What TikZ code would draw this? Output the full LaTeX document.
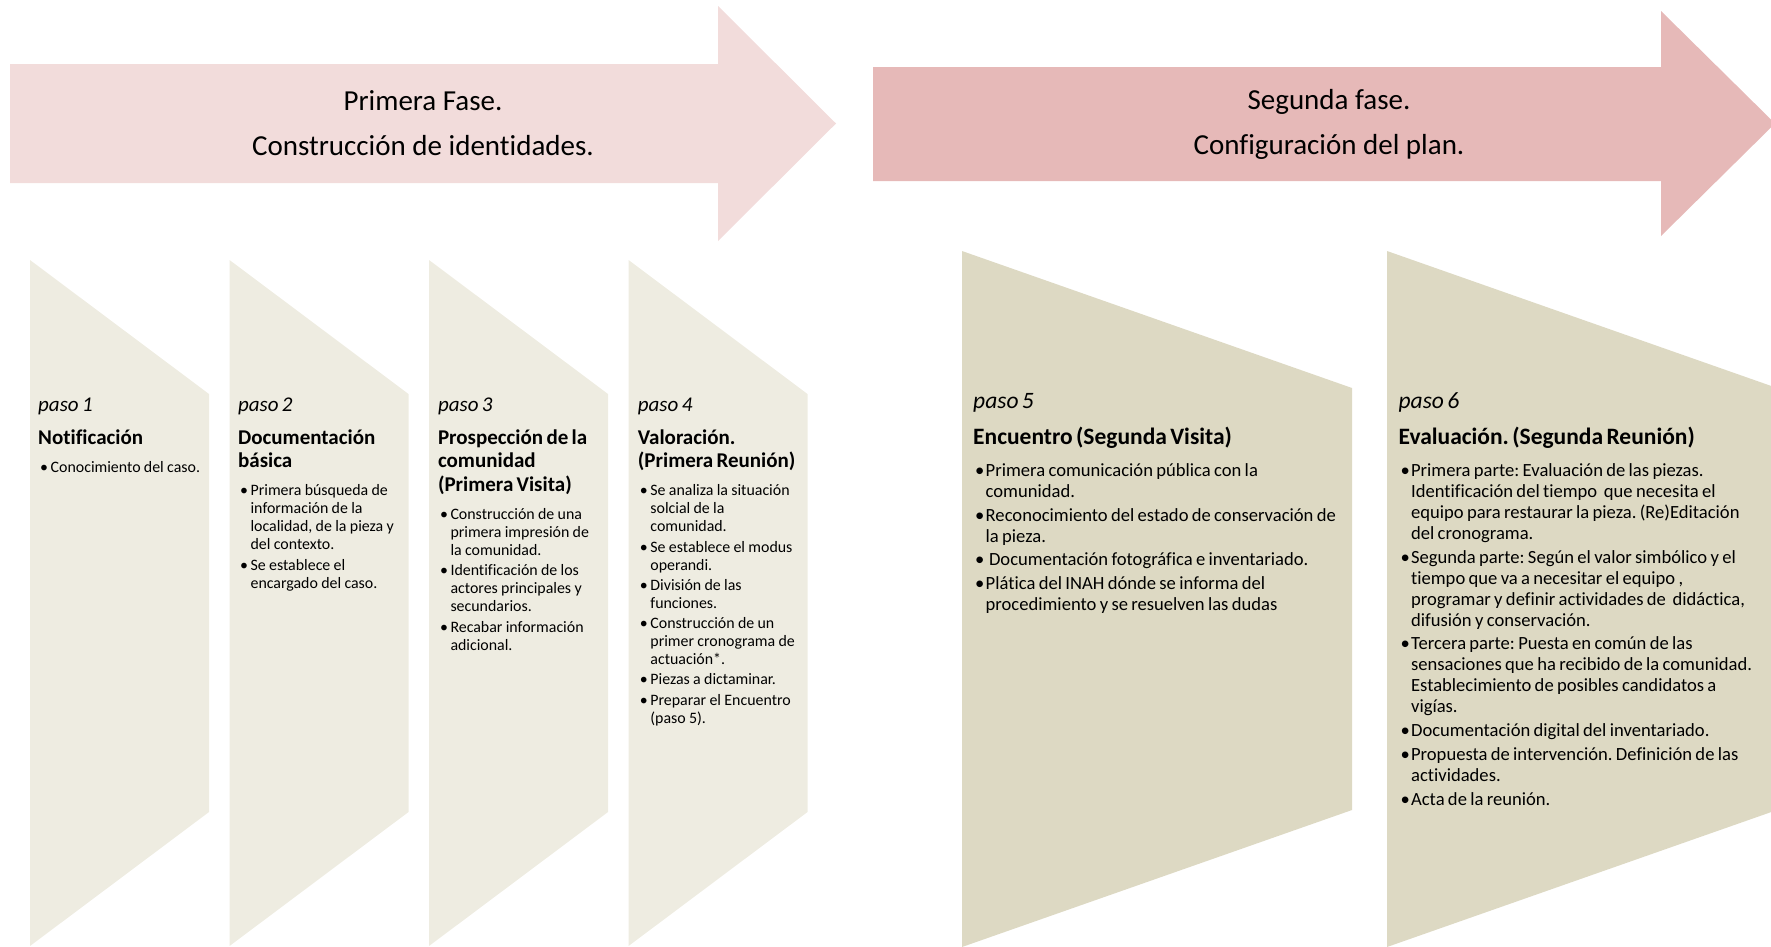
\documentclass[tikz,border=0pt]{standalone}
\usepackage{fontspec}
\setmainfont{Carlito}[Ligatures=NoCommon]
\usepackage{tikz}
\usetikzlibrary{positioning}
\frenchspacing

\definecolor{faseuno}{HTML}{F2DCDB}
\definecolor{fasedos}{HTML}{E6B9B8}
\definecolor{pasoclaro}{HTML}{EEECE1}
\definecolor{pasooscuro}{HTML}{DDD9C3}

\newlength{\headgap}
\newlength{\listgap}
\newlength{\itemgap}
\newlength{\bulletind}
\newcommand{\headfont}{}
\newcommand{\itemfont}{}
\newcommand{\smallset}{%
  \renewcommand{\headfont}{\fontsize{21}{23.7}\selectfont}%
  \renewcommand{\itemfont}{\fontsize{15.9}{18}\selectfont}%
  \setlength{\parindent}{0pt}\setlength{\parskip}{0pt}%
  \setlength{\headgap}{9.3pt}\setlength{\listgap}{10pt}%
  \setlength{\itemgap}{2.3pt}\setlength{\bulletind}{12.5pt}}
\newcommand{\bigset}{%
  \renewcommand{\headfont}{\fontsize{23.5}{26.5}\selectfont}%
  \renewcommand{\itemfont}{\fontsize{18.6}{21}\selectfont}%
  \setlength{\parindent}{0pt}\setlength{\parskip}{0pt}%
  \setlength{\headgap}{9.5pt}\setlength{\listgap}{11.5pt}%
  \setlength{\itemgap}{2.7pt}\setlength{\bulletind}{12.5pt}}
\newcommand{\pasohead}[2]{{\headfont\itshape paso #1\par}\vspace{\headgap}{\headfont\bfseries #2\par}\vspace{\listgap}}
\newcommand{\pasoitem}[1]{{\itemfont\hangindent=\bulletind\hangafter=1\noindent\makebox[\bulletind][l]{\hspace{2pt}\textbullet}#1\par}\vspace{\itemgap}}

\begin{document}
\begin{tikzpicture}[x=1pt,y=-1pt,
  fase/.style={align=center,inner sep=0pt,font=\fontsize{29}{45}\selectfont},
  small step/.style={text width=195pt,inner sep=0pt,align=left,font=\smallset},
  big step/.style={text width=420pt,inner sep=0pt,align=left,font=\bigset}]
  \useasboundingbox (0,0) rectangle (1771,946);
  \clip (0,0) rectangle (1771,946);

  %first arrow
  \fill[faseuno] (10,64) -- (718,64) -- (718,6) -- (836,123.5) -- (718,241) -- (718,183) -- (10,183) -- cycle;
  \node[fase] (fase1) at (423,123) {Primera Fase.\\Construcción de identidades.};

  %second arrow
  \fill[fasedos] (873,67) -- (1661,67) -- (1661,11) -- (1775,123.5) -- (1661,236) -- (1661,181) -- (873,181) -- cycle;
  \node[fase] (fase2) at (1329,124.5) {Segunda fase.\\Configuración del plan.};

  %small steps
  \fill[pasoclaro] (30,260) -- (209,394) -- (209,812) -- (30,946) -- cycle;
  \fill[pasoclaro] (229.5,260) -- (408.5,394) -- (408.5,812) -- (229.5,946) -- cycle;
  \fill[pasoclaro] (429,260) -- (608,394) -- (608,812) -- (429,946) -- cycle;
  \fill[pasoclaro] (628.5,260) -- (807.5,394) -- (807.5,812) -- (628.5,946) -- cycle;

  %big steps
  \fill[pasooscuro] (962,251) -- (1352,388) -- (1352,810) -- (962,947) -- cycle;
  \fill[pasooscuro] (1387,251) -- (1777,388) -- (1777,810) -- (1387,947) -- cycle;

  %texts of the first phase
  \node[small step,anchor=base west] (paso1) at (38,411) {\pasohead{1}{Notificación}
    \pasoitem{Conocimiento del caso.}};
  \node[small step,base right=4.5pt of paso1] (paso2) {\pasohead{2}{Documentación\newline básica}
    \pasoitem{Primera búsqueda de\newline información de la\newline localidad, de la pieza y\newline del contexto.}
    \pasoitem{Se establece el\newline encargado del caso.}};
  \node[small step,base right=4.5pt of paso2] (paso3) {\pasohead{3}{Prospección de la\newline comunidad\newline (Primera Visita)}
    \pasoitem{Construcción de una\newline primera impresión de\newline la comunidad.}
    \pasoitem{Identificación de los\newline actores principales y\newline secundarios.}
    \pasoitem{Recabar información\newline adicional.}};
  \node[small step,base right=4.5pt of paso3] (paso4) {\pasohead{4}{Valoración.\newline (Primera Reunión)}
    \pasoitem{Se analiza la situación\newline solcial de la\newline comunidad.}
    \pasoitem{Se establece el modus\newline operandi.}
    \pasoitem{División de las\newline funciones.}
    \pasoitem{Construcción de un\newline primer cronograma de\newline actuación*.}
    \pasoitem{Piezas a dictaminar.}
    \pasoitem{Preparar el Encuentro\newline (paso 5).}};

  %texts of the second phase
  \node[big step,anchor=base west] (paso5) at (973,408) {\pasohead{5}{Encuentro (Segunda Visita)}
    \pasoitem{Primera comunicación pública con la\newline comunidad.}
    \pasoitem{Reconocimiento del estado de conservación de\newline la pieza.}
    \pasoitem{\ Documentación fotográfica e inventariado.}
    \pasoitem{Plática del INAH dónde se informa del\newline procedimiento y se resuelven las dudas}};
  \node[big step,base right=5pt of paso5] (paso6) {\pasohead{6}{Evaluación. (Segunda Reunión)}
    \pasoitem{Primera parte: Evaluación de las piezas.\newline Identificación del tiempo\ \ que necesita el\newline equipo para restaurar la pieza. (Re)Editación\newline del cronograma.}
    \pasoitem{Segunda parte: Según el valor simbólico y el\newline tiempo que va a necesitar el equipo ,\newline programar y definir actividades de\ \ didáctica,\newline difusión y conservación.}
    \pasoitem{Tercera parte: Puesta en común de las\newline sensaciones que ha recibido de la comunidad.\newline Establecimiento de posibles candidatos a\newline vigías.}
    \pasoitem{Documentación digital del inventariado.}
    \pasoitem{Propuesta de intervención. Definición de las\newline actividades.}
    \pasoitem{Acta de la reunión.}};
\end{tikzpicture}
\end{document}
